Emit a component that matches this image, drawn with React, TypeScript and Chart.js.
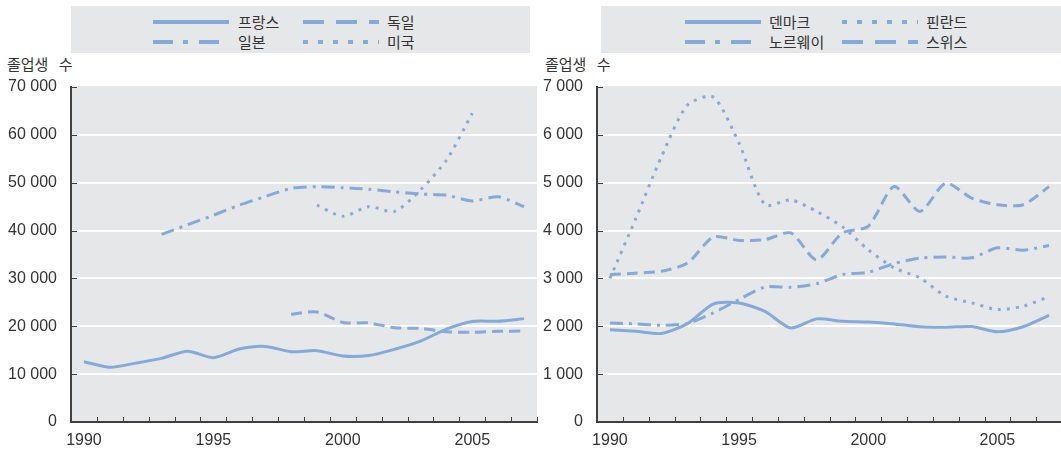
import React, { useEffect, useRef } from 'react';
import { Chart, registerables } from 'chart.js';

Chart.register(...registerables);

// ---------- data ----------
const years = ['1990','1991','1992','1993','1994','1995','1996','1997','1998','1999','2000','2001','2002','2003','2004','2005','2006','2007'];
const shownYears = ['1990', '1995', '2000', '2005'];

// left panel (number of graduates)
const france = [12600, 11450, 12300, 13300, 14800, 13450, 15250, 15800, 14700, 14900, 13800, 13900, 15200, 16900, 19400, 21000, 21050, 21600];
const germany = [null, null, null, null, null, null, null, null, 22500, 23000, 20800, 20700, 19700, 19550, 18850, 18750, 18950, 19000];
const japan = [null, null, null, 39200, 41200, 43200, 45300, 47100, 48800, 49150, 48950, 48650, 48100, 47650, 47400, 46200, 47050, 45000];
const usa = [null, null, null, null, null, null, null, null, null, 45300, 43000, 45000, 44000, 48500, 54700, 64500, null, null];

// right panel
const denmark = [1930, 1895, 1850, 2055, 2465, 2485, 2310, 1965, 2155, 2105, 2090, 2050, 1990, 1980, 1995, 1885, 1990, 2230];
const finland = [3000, 4250, 5550, 6620, 6790, 5820, 4540, 4640, 4400, 4080, 3600, 3220, 3010, 2630, 2490, 2350, 2420, 2620];
const norway = [2070, 2050, 2020, 2060, 2280, 2560, 2820, 2815, 2890, 3080, 3130, 3310, 3425, 3450, 3430, 3640, 3590, 3690];
const switzerland = [3080, 3110, 3150, 3320, 3865, 3795, 3810, 3950, 3390, 3950, 4090, 4920, 4400, 4990, 4680, 4540, 4540, 4920];

const axisTitle = '졸업생 수';

// ---------- styles ----------
const LINE = '#84aadc';
const PLOT_BG = '#e6e7e8';
const AXIS = '#404040';
const TEXT = '#333333';
const NARROW = "'Liberation Sans Narrow', 'Liberation Sans', Arial, sans-serif";
const KR = "'Noto Sans CJK KR', 'Noto Sans', sans-serif";

const chartDash: Record<string, number[]> = {
  solid: [],
  dashed: [11, 6],
  dashdot: [13, 6, 3, 6],
  dotted: [3, 6],
};
const legendDash: Record<string, string> = {
  solid: '',
  dashed: '21 12',
  dashdot: '20 10 5 11',
  dotted: '5 10',
};

const fmt = (v: number) => {
  const s = String(Math.round(v));
  return s.replace(/\B(?=(\d{3})+(?!\d))/g, ' ');
};

const framePlugin = {
  id: 'frame',
  beforeDraw(chart: any) {
    const { ctx, chartArea: a } = chart;
    ctx.save();
    ctx.fillStyle = PLOT_BG;
    ctx.fillRect(a.left, a.top - 1, a.right - a.left, a.bottom - a.top + 1);
    ctx.restore();
  },
  afterDraw(chart: any) {
    const { ctx, chartArea: a, scales } = chart;
    const x = scales.x;
    const y = scales.y;
    ctx.save();
    ctx.strokeStyle = AXIS;
    ctx.lineWidth = 1;
    const n = x.getLabels().length;
    const step = x.getPixelForValue(1) - x.getPixelForValue(0);
    ctx.beginPath();
    for (let i = 0; i < n; i++) {
      const px = Math.round(x.getPixelForValue(i) + step / 2) + 0.5;
      ctx.moveTo(px, a.bottom);
      ctx.lineTo(px, a.bottom - 5);
    }
    y.ticks.forEach((t: any) => {
      if (t.value === 0) return;
      const py = Math.round(y.getPixelForValue(t.value)) + 0.5;
      ctx.moveTo(a.left, py);
      ctx.lineTo(a.left + 6, py);
    });
    ctx.stroke();
    ctx.restore();
  },
};

type Series = { data: (number | null)[]; style: string };

function makeConfig(series: Series[], max: number, step: number, yWidth: number, rightPad: number) {
  return {
    type: 'line' as const,
    data: {
      labels: years,
      datasets: series.map((s) => ({
        data: s.data,
        borderColor: LINE,
        backgroundColor: LINE,
        borderWidth: 3,
        borderDash: chartDash[s.style],
        pointRadius: 0,
        tension: 0.25,
        spanGaps: false,
        fill: false,
      })),
    },
    options: {
      responsive: false,
      animation: false as const,
      events: [] as any[],
      layout: { padding: { top: 87, right: rightPad, left: 0, bottom: 0 } },
      plugins: { legend: { display: false }, tooltip: { enabled: false } },
      scales: {
        x: {
          offset: true,
          grid: { display: true, color: 'transparent', drawTicks: false, offset: true },
          border: { display: true, color: AXIS, width: 2 },
          ticks: {
            autoSkip: false,
            maxRotation: 0,
            padding: 9,
            color: TEXT,
            font: { family: NARROW, size: 16 },
            callback: (v: any, i: number) => (shownYears.includes(years[i]) ? years[i] : ''),
          },
          afterFit: (s: any) => { s.height = 31; },
        },
        y: {
          min: 0,
          max,
          grid: {
            color: (c: any) => (c.tick && (c.tick.value === 0 || c.tick.value === max) ? 'transparent' : '#ffffff'),
            lineWidth: 2,
            drawTicks: false,
          },
          border: { display: true, color: AXIS, width: 2 },
          ticks: {
            stepSize: step,
            padding: 14,
            color: TEXT,
            font: { family: NARROW, size: 16 },
            callback: (v: any) => fmt(Number(v)),
          },
          afterFit: (s: any) => { s.width = yWidth; },
        },
      },
    },
    plugins: [framePlugin],
  };
}

function LineChart(props: { series: Series[]; max: number; step: number; left: number; width: number; yWidth: number; rightPad: number }) {
  const ref = useRef<HTMLCanvasElement | null>(null);
  useEffect(() => {
    if (!ref.current) return;
    const chart = new Chart(ref.current, makeConfig(props.series, props.max, props.step, props.yWidth, props.rightPad) as any);
    return () => chart.destroy();
  }, []);
  return (
    <canvas
      ref={ref}
      width={props.width}
      height={453}
      style={{ position: 'absolute', left: props.left, top: 0, width: props.width, height: 453, display: 'block' }}
    />
  );
}

type LegendItem = { label: string; style: string };

function Legend(props: { left: number; width: number; items: LegendItem[]; cols: { sample: number; text: number }[] }) {
  const rows = [22, 42];
  return (
    <div style={{ position: 'absolute', left: props.left, top: 6, width: props.width, height: 47, background: PLOT_BG }}>
      {props.items.map((it, i) => {
        const col = props.cols[i % 2];
        const cy = rows[Math.floor(i / 2)];
        return (
          <React.Fragment key={it.label}>
            <svg style={{ position: 'absolute', left: col.sample - props.left, top: cy - 6 - 3, overflow: 'visible' }} width={76} height={6}>
              <line x1={0} y1={3} x2={76} y2={3} stroke={LINE} strokeWidth={4} strokeDasharray={legendDash[it.style] || undefined} />
            </svg>
            <div style={{ position: 'absolute', left: col.text - props.left, top: cy - 6 - 11, fontFamily: KR, fontSize: 15, lineHeight: '22px', color: TEXT, whiteSpace: 'nowrap' }}>
              {it.label}
            </div>
          </React.Fragment>
        );
      })}
    </div>
  );
}

const titleStyle: React.CSSProperties = {
  position: 'absolute',
  top: 55,
  fontFamily: KR,
  fontSize: 15,
  lineHeight: '18px',
  color: TEXT,
  whiteSpace: 'pre',
  wordSpacing: 7,
};

export default function App() {
  const leftSeries: Series[] = [
    { data: france, style: 'solid' },
    { data: germany, style: 'dashed' },
    { data: japan, style: 'dashdot' },
    { data: usa, style: 'dotted' },
  ];
  const rightSeries: Series[] = [
    { data: denmark, style: 'solid' },
    { data: finland, style: 'dotted' },
    { data: norway, style: 'dashdot' },
    { data: switzerland, style: 'dashed' },
  ];
  return (
    <div style={{ position: 'fixed', left: 0, top: 0, width: 1061, height: 453, overflow: 'hidden', background: '#ffffff' }}>
      <Legend
        left={71}
        width={459}
        items={[
          { label: '프랑스', style: 'solid' },
          { label: '독일', style: 'dashed' },
          { label: '일본', style: 'dashdot' },
          { label: '미국', style: 'dotted' },
        ]}
        cols={[{ sample: 153, text: 238 }, { sample: 303, text: 387 }]}
      />
      <Legend
        left={601}
        width={461}
        items={[
          { label: '덴마크', style: 'solid' },
          { label: '핀란드', style: 'dotted' },
          { label: '노르웨이', style: 'dashdot' },
          { label: '스위스', style: 'dashed' },
        ]}
        cols={[{ sample: 685, text: 769 }, { sample: 842, text: 926 }]}
      />
      <div style={{ ...titleStyle, left: 7 }}>{axisTitle}</div>
      <div style={{ ...titleStyle, left: 545 }}>{axisTitle}</div>
      <LineChart series={leftSeries} max={70000} step={10000} left={0} width={545} yWidth={71} rightPad={8} />
      <LineChart series={rightSeries} max={7000} step={1000} left={530} width={545} yWidth={67} rightPad={13} />
    </div>
  );
}
